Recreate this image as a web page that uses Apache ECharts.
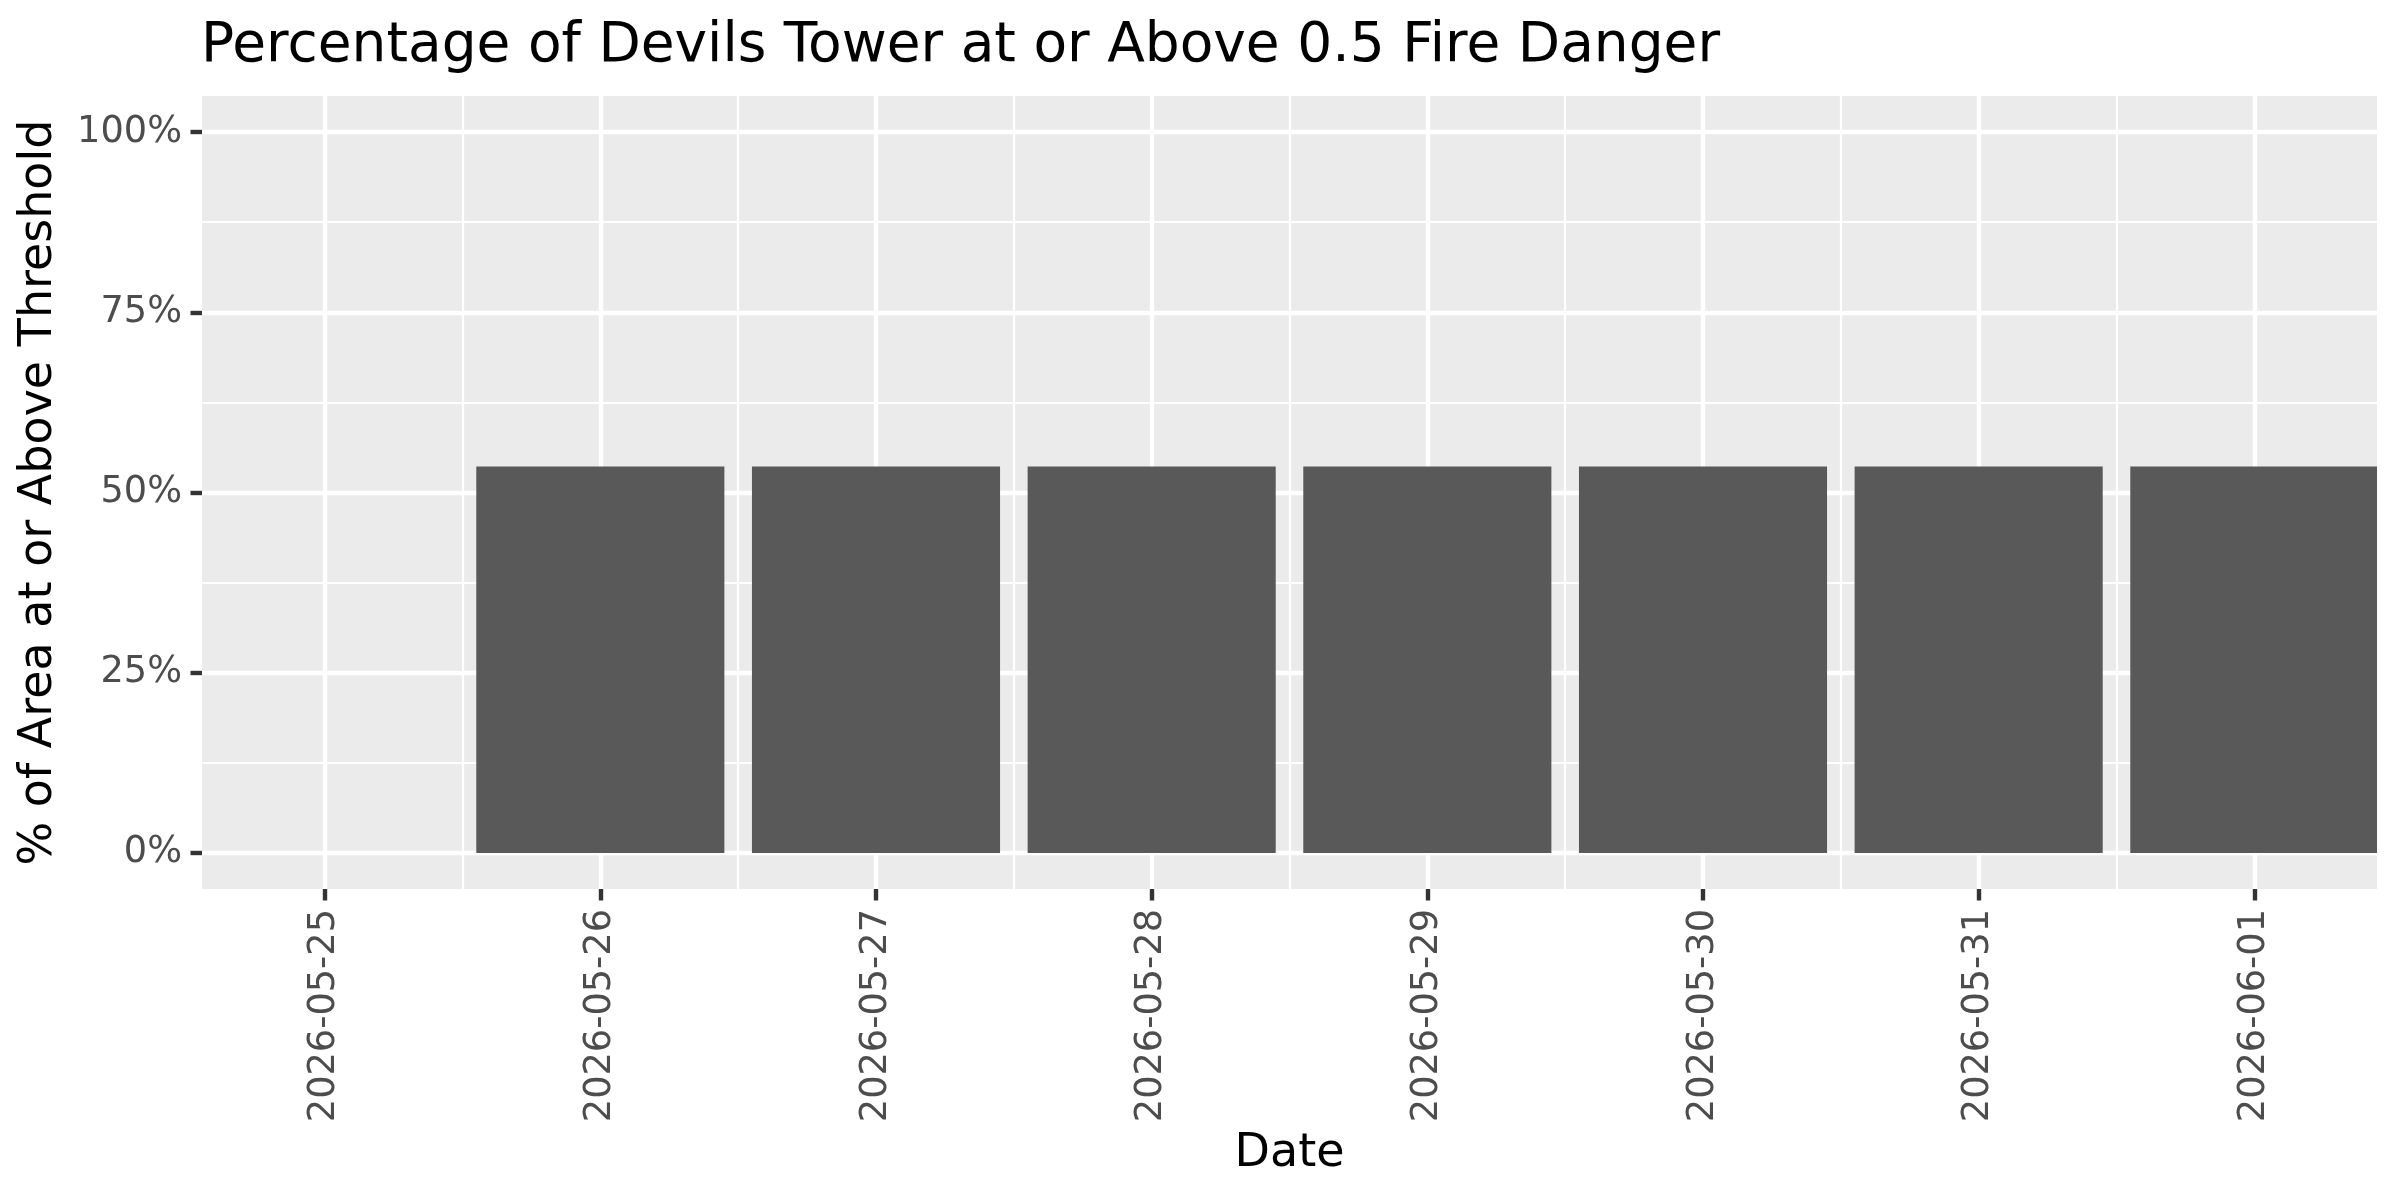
<!DOCTYPE html>
<html>
<head>
<meta charset="utf-8">
<script src="https://cdn.jsdelivr.net/npm/echarts@6/dist/echarts.min.js"></script>
<style>
  html, body { margin: 0; padding: 0; background: #ffffff; }
  #chart { width: 2400px; height: 1200px; }
</style>
</head>
<body>
<div id="chart"></div>
<script>
// data
var dates = ['2026-05-25', '2026-05-26', '2026-05-27', '2026-05-28',
             '2026-05-29', '2026-05-30', '2026-05-31', '2026-06-01'];
var pctValues = [0, 53.6, 53.6, 53.6, 53.6, 53.6, 53.6, 53.6];
var yTicks = [0, 25, 50, 75, 100];
var yMinor = [12.5, 37.5, 62.5, 87.5];

var dayIdx = dates.map(function (d, i) { return i; });
var dayMinor = dates.slice(1).map(function (d, i) { return i + 0.5; });
var barData = dates.map(function (d, i) { return [i, pctValues[i]]; });

var font = 'DejaVu Sans';
var myChart = echarts.init(document.getElementById('chart'));

function renderBar(params, api) {
    var x = api.value(0), v = api.value(1);
    var p0 = api.coord([x - 0.45, v]);
    var p1 = api.coord([x + 0.45, 0]);
    var shape = echarts.graphic.clipRectByRect({
        x: p0[0], y: p0[1], width: p1[0] - p0[0], height: p1[1] - p0[1]
    }, {
        x: params.coordSys.x, y: params.coordSys.y,
        width: params.coordSys.width, height: params.coordSys.height
    });
    return shape && { type: 'rect', shape: shape, style: { fill: '#595959' } };
}

var option = {
    animation: false,
    title: {
        text: 'Percentage of Devils Tower at or Above 0.5 Fire Danger',
        left: 196,
        top: 14,
        textStyle: { fontFamily: font, fontSize: 55, fontWeight: 'normal', color: '#000000' }
    },
    grid: {
        left: 202, right: 23, top: 96, bottom: 311,
        show: true, backgroundColor: '#EBEBEB', borderWidth: 0
    },
    xAxis: [{
        type: 'value',
        min: -0.445, max: 7.445,
        name: 'Date',
        nameLocation: 'middle',
        nameGap: 242,
        nameTextStyle: { fontFamily: font, fontSize: 46, color: '#000000', verticalAlign: 'top' },
        axisLine: { show: false, onZero: false },
        axisTick: { show: true, customValues: dayIdx, length: 11.5, lineStyle: { color: '#333333', width: 4.4 } },
        axisLabel: {
            customValues: dayIdx, rotate: 90, margin: 20,
            fontFamily: font, fontSize: 36.7, color: '#4D4D4D',
            formatter: function (v) { return dates[Math.round(v)]; }
        },
        splitLine: { show: true, lineStyle: { color: '#FFFFFF', width: 4.4 } }
    }, {
        type: 'value',
        min: -0.445, max: 7.445,
        position: 'bottom',
        axisLine: { show: false, onZero: false },
        axisTick: { show: false, customValues: dayMinor },
        axisLabel: { show: false, customValues: dayMinor },
        splitLine: { show: true, lineStyle: { color: '#FFFFFF', width: 2.2 } }
    }],
    yAxis: [{
        type: 'value',
        min: -5, max: 105,
        name: '% of Area at or Above Threshold',
        nameLocation: 'middle',
        nameGap: 140,
        nameRotate: 90,
        nameTextStyle: { fontFamily: font, fontSize: 46, color: '#000000' },
        axisLine: { show: false, onZero: false },
        axisTick: { show: true, customValues: yTicks, length: 11.5, lineStyle: { color: '#333333', width: 4.4 } },
        axisLabel: {
            customValues: yTicks, margin: 20,
            fontFamily: font, fontSize: 36.7, color: '#4D4D4D',
            formatter: function (v) { return v + '%'; }
        },
        splitLine: { show: true, lineStyle: { color: '#FFFFFF', width: 4.4 } }
    }, {
        type: 'value',
        min: -5, max: 105,
        position: 'left',
        axisLine: { show: false, onZero: false },
        axisTick: { show: false, customValues: yMinor },
        axisLabel: { show: false, customValues: yMinor },
        splitLine: { show: true, lineStyle: { color: '#FFFFFF', width: 2.2 } }
    }],
    series: [{
        type: 'custom',
        xAxisIndex: 0,
        yAxisIndex: 0,
        renderItem: renderBar,
        encode: { x: 0, y: 1 },
        data: barData,
        z: 5
    }]
};
myChart.setOption(option);
</script>
</body>
</html>
